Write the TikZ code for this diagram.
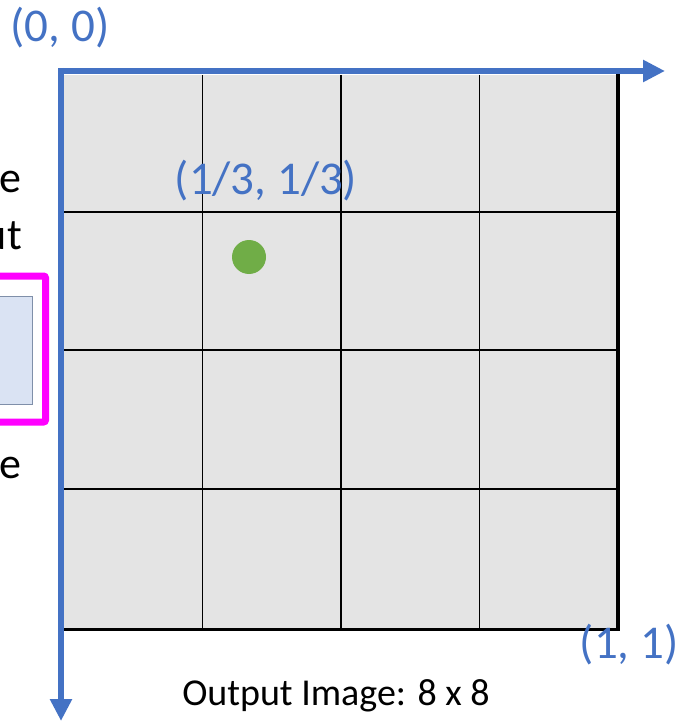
\documentclass[tikz,border=0pt]{standalone}
\usepackage{fontspec}
\setmainfont{Carlito}
\usetikzlibrary{arrows.meta}
\definecolor{axisblue}{HTML}{4472C4}
\definecolor{cellgray}{HTML}{E4E4E4}
\definecolor{dotgreen}{HTML}{70AD47}
\definecolor{boxblue}{HTML}{DAE3F3}
\definecolor{boxedge}{HTML}{7F8FA9}
\definecolor{hotpink}{HTML}{FF00FF}
\begin{document}
\begin{tikzpicture}[x=1pt,y=-1pt,
  gridline/.style={black,line width=1.6pt},
  borderline/.style={black,line width=3.5pt},
  axisline/.style={axisblue,line width=6pt,-{Triangle[length=22pt,width=21pt]}},
  bluelabel/.style={text=axisblue,font=\fontsize{47}{56}\selectfont,inner sep=0pt},
  blacklabel/.style={text=black,font=\fontsize{38}{46}\selectfont,inner sep=0pt},
  sidelabel/.style={text=black,font=\fontsize{44}{52}\selectfont,inner sep=0pt,anchor=base east}]
\useasboundingbox (0,0) rectangle (681,722);
% grid cells
\fill[cellgray] (64,75) rectangle (618,628);
\foreach \x in {202.5,341,479.5} \draw[gridline] (\x,75) -- (\x,628);
\foreach \y in {212,350,489} \draw[gridline] (64,\y) -- (618,\y);
\draw[borderline] (618,74) -- (618,629.5) -- (61,629.5);
% left partial box
\draw[hotpink,line width=7pt,rounded corners=2pt] (-10,276) rectangle (45.5,422);
\draw[fill=boxblue,draw=boxedge,line width=1pt] (-10,296) rectangle (32,404);
% axes
\coordinate (o) at (58,71);
\coordinate (ov) at (61,68);
\coordinate (xtip) at (665,71);
\coordinate (ytip) at (61,721);
\draw[axisline] (o) -- (xtip);
\draw[axisline] (ov) -- (ytip);
% dot
\fill[dotgreen] (249,257) circle (17);
% labels
\node[bluelabel] (l00) at (60,28) {(0, 0)};
\node[bluelabel] (l13) at (266,181) {(1/3, 1/3)};
\node[bluelabel] (l11) at (629,645) {(1, 1)};
\node[blacklabel] (out) at (336,696) {Output Image: 8 x 8};
\node[sidelabel] (s1) at (22,192) {e};
\node[sidelabel] (s2) at (22,249) {ut};
\node[sidelabel] (s3) at (22,478) {e};
\end{tikzpicture}
\end{document}
